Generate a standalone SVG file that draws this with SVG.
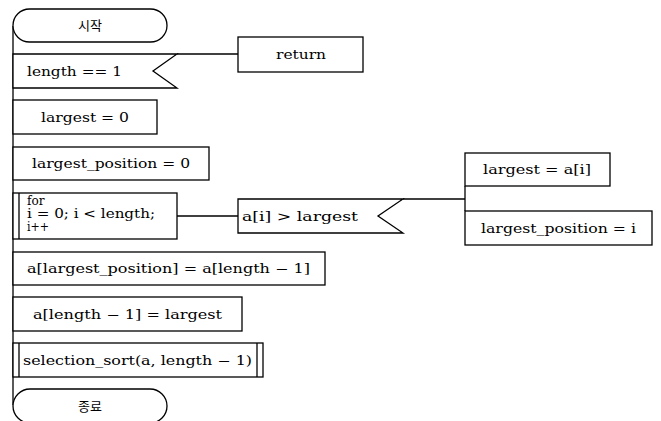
<svg xmlns="http://www.w3.org/2000/svg" width="661" height="421" viewBox="0 0 661 421">
<style>
.s{fill:#fff;stroke:#000;stroke-width:1.3}
.l{fill:none;stroke:#000;stroke-width:1.3}
text{font-family:"DejaVu Serif","Liberation Serif","Noto Sans CJK KR",serif;font-size:12px;fill:#000}
.k{font-family:"Noto Sans CJK KR","Liberation Serif",sans-serif;font-size:13px}
</style>
<rect width="661" height="421" fill="#fff"/>
<g id="connectors">
<line class="l" x1="13" y1="26" x2="13" y2="405"/>
<line class="l" x1="177" y1="54" x2="238" y2="54"/>
<line class="l" x1="177" y1="216" x2="238" y2="216"/>
<line class="l" x1="403" y1="199" x2="465" y2="199"/>
<line class="l" x1="465" y1="186" x2="465" y2="211"/>
</g>
<g id="start">
<rect class="s" x="13" y="9" width="154" height="33" rx="16.5"/>
<text class="k" x="90" y="30" text-anchor="middle">시작</text>
</g>
<g id="cond1">
<polygon class="s" points="13,54 177,54 153,71 177,88 13,88"/>
<text x="27" y="76" textLength="95" lengthAdjust="spacingAndGlyphs">length == 1</text>
</g>
<g id="return">
<rect class="s" x="238" y="37" width="125" height="35"/>
<text x="276" y="59" textLength="50" lengthAdjust="spacingAndGlyphs">return</text>
</g>
<g id="init1">
<rect class="s" x="13" y="100" width="144" height="34"/>
<text x="41" y="122" textLength="88" lengthAdjust="spacingAndGlyphs">largest = 0</text>
</g>
<g id="init2">
<rect class="s" x="13" y="147" width="196" height="33"/>
<text x="32" y="168" textLength="158" lengthAdjust="spacingAndGlyphs">largest_position = 0</text>
</g>
<g id="loop">
<rect class="s" x="13" y="193" width="164" height="46"/>
<line class="l" x1="19" y1="193" x2="19" y2="239"/>
<text x="27" y="205">for</text>
<text x="27" y="218" textLength="128" lengthAdjust="spacingAndGlyphs">i = 0; i &lt; length;</text>
<text x="27" y="231" textLength="22" lengthAdjust="spacingAndGlyphs">i++</text>
</g>
<g id="cond2">
<polygon class="s" points="238,199 403,199 378,216 403,233 238,233"/>
<text x="242" y="221" textLength="116" lengthAdjust="spacingAndGlyphs">a[i] &gt; largest</text>
</g>
<g id="assign1">
<rect class="s" x="465" y="153" width="145" height="33"/>
<text x="483" y="174" textLength="108" lengthAdjust="spacingAndGlyphs">largest = a[i]</text>
</g>
<g id="assign2">
<rect class="s" x="465" y="211" width="187" height="34"/>
<text x="481" y="233" textLength="155" lengthAdjust="spacingAndGlyphs">largest_position = i</text>
</g>
<g id="swap1">
<rect class="s" x="13" y="252" width="312" height="33"/>
<text x="27" y="273" textLength="283" lengthAdjust="spacingAndGlyphs">a[largest_position] = a[length − 1]</text>
</g>
<g id="swap2">
<rect class="s" x="13" y="297" width="229" height="34"/>
<text x="33" y="319" textLength="189" lengthAdjust="spacingAndGlyphs">a[length − 1] = largest</text>
</g>
<g id="recurse">
<rect class="s" x="13" y="343" width="250" height="34"/>
<line class="l" x1="19" y1="343" x2="19" y2="377"/>
<line class="l" x1="257" y1="343" x2="257" y2="377"/>
<text x="23" y="365" textLength="229" lengthAdjust="spacingAndGlyphs">selection_sort(a, length − 1)</text>
</g>
<g id="end">
<rect class="s" x="13" y="389" width="154" height="34" rx="17"/>
<text class="k" x="90" y="411" text-anchor="middle">종료</text>
</g>
</svg>
